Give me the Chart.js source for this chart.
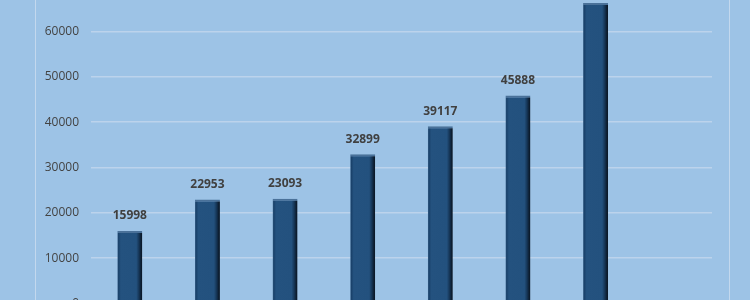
<!DOCTYPE html>
<html lang="en">
<head>
    <meta charset="UTF-8">
    <title>Bar Chart</title>
    <script src="https://cdn.jsdelivr.net/npm/chart.js"></script>
    <style>
        html, body {
            margin: 0;
            padding: 0;
            width: 750px;
            height: 300px;
            overflow: hidden;
            background-color: #9dc3e6;
        }

        .frame {
            position: absolute;
            left: 35px;
            top: 0;
            width: 693px;
            height: 300px;
            border-left: 1px solid #c3d8ee;
            border-right: 1px solid #c3d8ee;
        }

        .chart-box {
            position: absolute;
            left: 0;
            top: -33px;
            width: 750px;
            height: 363px;
        }
    </style>
</head>
<body>

    <div class="frame"></div>
    <div class="chart-box">
        <canvas id="barChart"></canvas>
    </div>

    <script>
        const categories = ['1', '2', '3', '4', '5', '6', '7', '8'];
        const values = [15998, 22953, 23093, 32899, 39117, 45888, 66300, null];
        const yTicks = [0, 10000, 20000, 30000, 40000, 50000, 60000, 70000];
        const BAR_PCT = 0.322;

        // value labels above each bar
        const barLabels = {
            id: 'barLabels',
            afterDatasetsDraw(chart) {
                const ctx = chart.ctx;
                const meta = chart.getDatasetMeta(0);
                ctx.save();
                ctx.font = 'bold 12px "Open Sans"';
                ctx.fillStyle = '#404040';
                ctx.textAlign = 'center';
                ctx.textBaseline = 'bottom';
                meta.data.forEach((bar, i) => {
                    if (values[i] == null) return;
                    ctx.fillText(values[i], bar.x, bar.y - 9);
                });
                ctx.restore();
            }
        };

        // fake bevel: darker band on the right side of each bar
        function barFill(context) {
            const chart = context.chart;
            const xScale = chart.scales.x;
            if (!chart.chartArea || !xScale || context.dataIndex == null) return '#22507f';
            const cx = xScale.getPixelForValue(context.dataIndex);
            if (!Number.isFinite(cx)) return '#22507f';
            const half = (xScale.width / categories.length) * BAR_PCT / 2;
            const g = chart.ctx.createLinearGradient(cx - half, 0, cx + half, 0);
            g.addColorStop(0, '#3a6189');
            g.addColorStop(0.05, '#1a426b');
            g.addColorStop(0.14, '#24527f');
            g.addColorStop(0.76, '#23517e');
            g.addColorStop(0.86, '#163759');
            g.addColorStop(0.95, '#0c1d30');
            g.addColorStop(1, '#0a1624');
            return g;
        }

        const ctx = document.getElementById('barChart').getContext('2d');
        new Chart(ctx, {
            type: 'bar',
            data: {
                labels: categories,
                datasets: [{
                    data: values,
                    backgroundColor: barFill,
                    borderColor: '#4a7199',
                    borderWidth: { top: 2, left: 0, right: 0, bottom: 0 },
                    borderSkipped: 'bottom',
                    categoryPercentage: 1,
                    barPercentage: BAR_PCT
                }]
            },
            options: {
                responsive: true,
                maintainAspectRatio: false,
                animation: false,
                layout: {
                    padding: { top: 15, right: 38, bottom: 26.5, left: 0 }
                },
                plugins: {
                    legend: { display: false },
                    tooltip: { enabled: false }
                },
                scales: {
                    x: {
                        display: false
                    },
                    y: {
                        min: 0,
                        max: 70000,
                        afterFit(scale) {
                            scale.width = 91;
                        },
                        afterBuildTicks(scale) {
                            scale.ticks = yTicks.map(v => ({ value: v }));
                        },
                        border: { display: false },
                        grid: {
                            color: '#bcd3ec',
                            lineWidth: 1.5,
                            drawTicks: false
                        },
                        ticks: {
                            padding: 12,
                            color: '#434343',
                            font: { family: 'Open Sans', size: 12 },
                            callback: v => String(v)
                        }
                    }
                }
            },
            plugins: [barLabels]
        });
    </script>

</body>
</html>
